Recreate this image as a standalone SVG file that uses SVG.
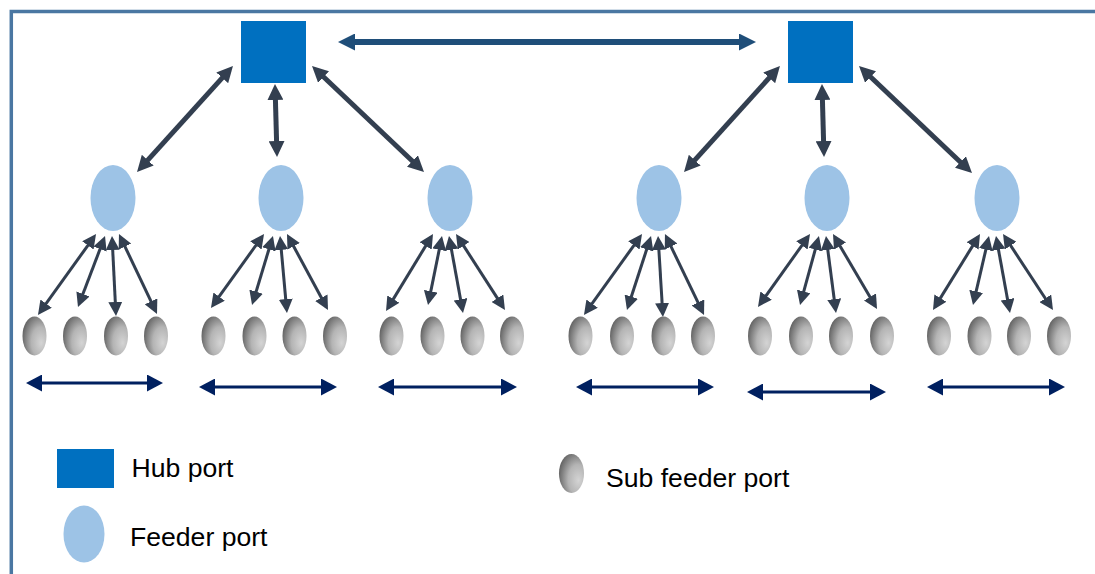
<svg xmlns="http://www.w3.org/2000/svg" width="1095" height="574" viewBox="0 0 1095 574">
  <style>
    .hub { fill: #0070C0; }
    .feeder { fill: #9DC3E6; }
    .sub { fill: url(#subShade); }
    .link-hub { stroke: #333F50; stroke-width: 5; fill: none; marker-start: url(#headHub); marker-end: url(#headHub); }
    .link-sub { stroke: #333F50; stroke-width: 3; fill: none; marker-start: url(#headSub); marker-end: url(#headSub); }
    .link-top { stroke: #1F4E79; stroke-width: 6; fill: none; marker-start: url(#headTop); marker-end: url(#headTop); }
    .link-row { stroke: #002060; stroke-width: 3; fill: none; marker-start: url(#headRow); marker-end: url(#headRow); }
    .label { font-family: "Liberation Sans", Arial, sans-serif; font-size: 26.6px; fill: #000000; }
  </style>
  <defs>
    <radialGradient id="subShade" cx="0.72" cy="0.62" r="0.85" fx="0.78" fy="0.68">
      <stop offset="0" stop-color="#d4d4d4"/>
      <stop offset="0.45" stop-color="#b4b4b4"/>
      <stop offset="1" stop-color="#4f4f4f"/>
    </radialGradient>
    <marker id="headHub" markerUnits="userSpaceOnUse" markerWidth="16" markerHeight="16" refX="1" refY="8" orient="auto-start-reverse">
      <path d="M0,0 L16,8 L0,16 z" fill="#333F50"/>
    </marker>
    <marker id="headSub" markerUnits="userSpaceOnUse" markerWidth="14" markerHeight="14" refX="10" refY="7" orient="auto-start-reverse">
      <path d="M0,0 L14,7 L0,14 z" fill="#333F50"/>
    </marker>
    <marker id="headTop" markerUnits="userSpaceOnUse" markerWidth="17" markerHeight="17" refX="1" refY="8.5" orient="auto-start-reverse">
      <path d="M0,0 L17,8.5 L0,17 z" fill="#1F4E79"/>
    </marker>
    <marker id="headRow" markerUnits="userSpaceOnUse" markerWidth="16" markerHeight="17" refX="1" refY="8.5" orient="auto-start-reverse">
      <path d="M0,0 L16,8.5 L0,17 z" fill="#002060"/>
    </marker>
  </defs>

  <rect width="1095" height="574" fill="#ffffff"/>

  <!-- frame (open to the right and bottom) -->
  <path d="M11.3,574 L11.3,11.5 L1095,11.5" fill="none" stroke="#4A77A2" stroke-width="3.5"/>

  <!-- connectors -->
  <g id="connectors">
    <line class="link-top" x1="354" y1="42" x2="740" y2="42"/>

    <line class="link-hub" x1="222.9" y1="77.1" x2="147.1" y2="160.9"/>
    <line class="link-hub" x1="275.4" y1="99" x2="276.6" y2="142"/>
    <line class="link-hub" x1="322.9" y1="76.3" x2="413.1" y2="161.7"/>
    <line class="link-hub" x1="769.9" y1="77.1" x2="694.1" y2="160.9"/>
    <line class="link-hub" x1="822.4" y1="99" x2="823.6" y2="142"/>
    <line class="link-hub" x1="869.9" y1="76.3" x2="961.1" y2="162.7"/>

    <line class="link-sub" x1="93.7" y1="237.3" x2="40.3" y2="311.7"/>
    <line class="link-sub" x1="103.6" y1="239.7" x2="79.4" y2="303.3"/>
    <line class="link-sub" x1="112.2" y1="240" x2="115.8" y2="312"/>
    <line class="link-sub" x1="120.7" y1="237.6" x2="155.3" y2="310.4"/>

    <line class="link-sub" x1="261.7" y1="237.3" x2="213.3" y2="304.7"/>
    <line class="link-sub" x1="271.8" y1="239.8" x2="253.2" y2="301.2"/>
    <line class="link-sub" x1="280.4" y1="240" x2="286.6" y2="309"/>
    <line class="link-sub" x1="288.9" y1="237.5" x2="326.1" y2="306.5"/>

    <line class="link-sub" x1="430.9" y1="237.4" x2="388.1" y2="307.6"/>
    <line class="link-sub" x1="441.2" y1="239.9" x2="428.8" y2="301.1"/>
    <line class="link-sub" x1="449.7" y1="239.9" x2="462.3" y2="309.1"/>
    <line class="link-sub" x1="458.2" y1="237.4" x2="502.8" y2="306.6"/>

    <line class="link-sub" x1="639.7" y1="237.3" x2="586.3" y2="311.7"/>
    <line class="link-sub" x1="649.8" y1="239.8" x2="628.2" y2="306.2"/>
    <line class="link-sub" x1="658.3" y1="240" x2="662.7" y2="313"/>
    <line class="link-sub" x1="666.7" y1="237.6" x2="702.3" y2="311.4"/>

    <line class="link-sub" x1="807.7" y1="237.3" x2="760.3" y2="303.7"/>
    <line class="link-sub" x1="817.9" y1="239.9" x2="801.1" y2="301.1"/>
    <line class="link-sub" x1="826.5" y1="240" x2="835.5" y2="309"/>
    <line class="link-sub" x1="835" y1="237.4" x2="875" y2="305.6"/>

    <line class="link-sub" x1="977.9" y1="237.4" x2="935.1" y2="306.6"/>
    <line class="link-sub" x1="988.1" y1="239.9" x2="973.9" y2="301.1"/>
    <line class="link-sub" x1="996.7" y1="239.9" x2="1009.3" y2="309.1"/>
    <line class="link-sub" x1="1005.2" y1="237.3" x2="1050.8" y2="306.7"/>

    <line class="link-row" x1="41" y1="383" x2="148" y2="383"/>
    <line class="link-row" x1="214" y1="387" x2="322" y2="387"/>
    <line class="link-row" x1="393" y1="387" x2="502" y2="387"/>
    <line class="link-row" x1="591" y1="387" x2="699" y2="387"/>
    <line class="link-row" x1="762" y1="392" x2="871" y2="392"/>
    <line class="link-row" x1="942" y1="387" x2="1050" y2="387"/>
  </g>

  <!-- hub ports -->
  <g id="hub-1"><rect class="hub" x="241" y="21" width="65" height="62"/></g>
  <g id="hub-2"><rect class="hub" x="788" y="21" width="65" height="62"/></g>

  <!-- feeder ports -->
  <g id="feeder-1"><ellipse class="feeder" cx="113" cy="198" rx="22.5" ry="33"/></g>
  <g id="feeder-2"><ellipse class="feeder" cx="281" cy="198" rx="22.5" ry="33"/></g>
  <g id="feeder-3"><ellipse class="feeder" cx="450" cy="198" rx="22.5" ry="33"/></g>
  <g id="feeder-4"><ellipse class="feeder" cx="659" cy="198" rx="22.5" ry="33"/></g>
  <g id="feeder-5"><ellipse class="feeder" cx="827" cy="198" rx="22.5" ry="33"/></g>
  <g id="feeder-6"><ellipse class="feeder" cx="997" cy="198" rx="22.5" ry="33"/></g>

  <!-- sub feeder ports -->
  <g id="sub-1-1"><ellipse class="sub" cx="34.5" cy="336" rx="12" ry="19.5"/></g>
  <g id="sub-1-2"><ellipse class="sub" cx="75" cy="336" rx="12" ry="19.5"/></g>
  <g id="sub-1-3"><ellipse class="sub" cx="116" cy="336" rx="12" ry="19.5"/></g>
  <g id="sub-1-4"><ellipse class="sub" cx="156" cy="336" rx="12" ry="19.5"/></g>

  <g id="sub-2-1"><ellipse class="sub" cx="213.5" cy="336" rx="12" ry="19.5"/></g>
  <g id="sub-2-2"><ellipse class="sub" cx="254.5" cy="336" rx="12" ry="19.5"/></g>
  <g id="sub-2-3"><ellipse class="sub" cx="294.5" cy="336" rx="12" ry="19.5"/></g>
  <g id="sub-2-4"><ellipse class="sub" cx="335" cy="336" rx="12" ry="19.5"/></g>

  <g id="sub-3-1"><ellipse class="sub" cx="391.5" cy="336" rx="12" ry="19.5"/></g>
  <g id="sub-3-2"><ellipse class="sub" cx="432.5" cy="336" rx="12" ry="19.5"/></g>
  <g id="sub-3-3"><ellipse class="sub" cx="472.5" cy="336" rx="12" ry="19.5"/></g>
  <g id="sub-3-4"><ellipse class="sub" cx="512" cy="336" rx="12" ry="19.5"/></g>

  <g id="sub-4-1"><ellipse class="sub" cx="580.5" cy="336" rx="12" ry="19.5"/></g>
  <g id="sub-4-2"><ellipse class="sub" cx="622" cy="336" rx="12" ry="19.5"/></g>
  <g id="sub-4-3"><ellipse class="sub" cx="663.5" cy="336" rx="12" ry="19.5"/></g>
  <g id="sub-4-4"><ellipse class="sub" cx="703" cy="336" rx="12" ry="19.5"/></g>

  <g id="sub-5-1"><ellipse class="sub" cx="760" cy="336" rx="12" ry="19.5"/></g>
  <g id="sub-5-2"><ellipse class="sub" cx="801" cy="336" rx="12" ry="19.5"/></g>
  <g id="sub-5-3"><ellipse class="sub" cx="841" cy="336" rx="12" ry="19.5"/></g>
  <g id="sub-5-4"><ellipse class="sub" cx="882" cy="336" rx="12" ry="19.5"/></g>

  <g id="sub-6-1"><ellipse class="sub" cx="939" cy="336" rx="12" ry="19.5"/></g>
  <g id="sub-6-2"><ellipse class="sub" cx="979.5" cy="336" rx="12" ry="19.5"/></g>
  <g id="sub-6-3"><ellipse class="sub" cx="1019" cy="336" rx="12" ry="19.5"/></g>
  <g id="sub-6-4"><ellipse class="sub" cx="1059" cy="336" rx="12" ry="19.5"/></g>

  <!-- legend -->
  <g id="legend-hub">
    <rect class="hub" x="57" y="449" width="57" height="39"/>
    <text class="label" x="131.5" y="477">Hub port</text>
  </g>
  <g id="legend-feeder">
    <ellipse class="feeder" cx="84" cy="534" rx="20.5" ry="28.5"/>
    <text class="label" x="130" y="546">Feeder port</text>
  </g>
  <g id="legend-sub">
    <ellipse class="sub" cx="571.5" cy="473.5" rx="12.5" ry="19.5"/>
    <text class="label" x="606" y="487">Sub feeder port</text>
  </g>
</svg>
